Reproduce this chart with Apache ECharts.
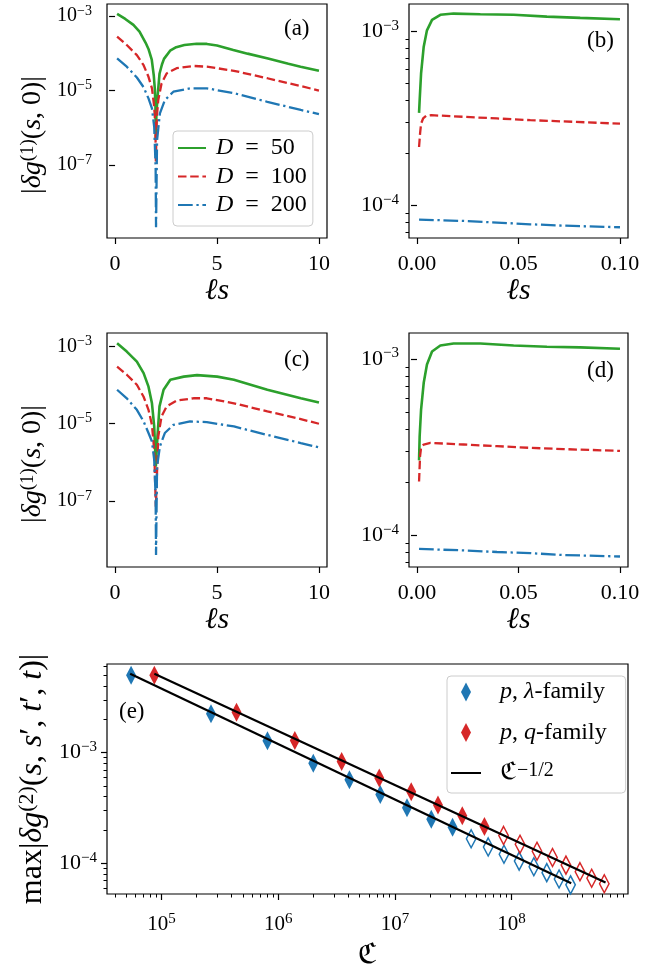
<!DOCTYPE html>
<html><head><meta charset="utf-8">
<script src="https://cdn.jsdelivr.net/npm/echarts@6/dist/echarts.min.js"></script>
<style>html,body{margin:0;padding:0;background:#fff}#c{width:668px;height:971px}</style>
</head><body><div id="c"></div>
<script>
// ---------------- data ----------------
const aGreen = [[0.1,1.13e-3],[0.5,8.32e-4],[0.9,5.75e-4],[1.2,3.80e-4],[1.5,1.91e-4],[1.65,1.26e-4],[1.8,6.76e-5],[1.9,2.51e-5],[1.95,1.12e-5],[1.98,3.98e-6],[2.0,5.25e-7],[2.03,2.51e-6],[2.08,6.31e-6],[2.18,2.82e-5],[2.3,5.01e-5],[2.4,7.08e-5],[2.7,1.17e-4],[3.0,1.45e-4],[3.4,1.66e-4],[4.0,1.80e-4],[4.5,1.78e-4],[5.0,1.62e-4],[5.8,1.23e-4],[6.5,9.77e-5],[7.5,7.24e-5],[8.5,5.25e-5],[9.1,4.37e-5],[10.0,3.39e-5]];
const aRed = [[0.1,2.79e-4],[0.575,1.66e-4],[1.07,8.91e-5],[1.4,4.79e-5],[1.64,2.34e-5],[1.81,1.15e-5],[1.92,3.72e-6],[1.98,1.0e-6],[2.0,1.26e-7],[2.05,2.0e-6],[2.12,5.62e-6],[2.28,1.55e-5],[2.53,2.88e-5],[3.02,3.98e-5],[3.84,4.57e-5],[4.5,4.37e-5],[5.83,3.39e-5],[7.47,2.14e-5],[9.11,1.32e-5],[10.0,1.0e-5]];
const aBlue = [[0.1,7.29e-5],[0.575,4.37e-5],[1.07,2.24e-5],[1.4,1.23e-5],[1.64,6.17e-6],[1.81,3.31e-6],[1.92,1.07e-6],[1.99,8.91e-8],[2.01,2.19e-9],[2.06,4.68e-7],[2.2,2.45e-6],[2.44,5.50e-6],[2.86,9.33e-6],[3.68,1.15e-5],[4.5,1.15e-5],[5.83,8.51e-6],[7.47,5.01e-6],[9.11,3.02e-6],[10.0,2.34e-6]];

const bGreen = [[0.001,3.39e-4],[0.0013,4.01e-4],[0.002,5.71e-4],[0.0033,8.13e-4],[0.0049,1.01e-3],[0.0074,1.16e-3],[0.0115,1.24e-3],[0.018,1.26e-3],[0.0312,1.25e-3],[0.0476,1.24e-3],[0.064,1.21e-3],[0.0804,1.19e-3],[0.1,1.17e-3]];
const bRed = [[0.001,2.16e-4],[0.0015,2.58e-4],[0.002,2.94e-4],[0.003,3.15e-4],[0.0045,3.26e-4],[0.007,3.29e-4],[0.023,3.22e-4],[0.0394,3.15e-4],[0.0558,3.08e-4],[0.0722,3.03e-4],[0.1,2.94e-4]];
const bBlue = [[0.001,8.28e-5],[0.023,8.13e-5],[0.0394,7.96e-5],[0.0558,7.78e-5],[0.0722,7.64e-5],[0.1,7.48e-5]];

const cGreen = [[0.1,1.22e-3],[0.575,7.41e-4],[1.07,4.07e-4],[1.4,2.04e-4],[1.64,9.12e-5],[1.81,3.39e-5],[1.92,8.51e-6],[2.0,7.76e-7],[2.08,4.68e-6],[2.18,2.82e-5],[2.38,7.59e-5],[2.71,1.38e-4],[3.37,1.66e-4],[4.02,1.82e-4],[5.01,1.66e-4],[5.83,1.38e-4],[7.47,7.59e-5],[9.11,4.57e-5],[10.0,3.55e-5]];
const cRed = [[0.1,3.02e-4],[0.575,1.86e-4],[1.07,1.02e-4],[1.4,5.01e-5],[1.64,2.29e-5],[1.81,9.33e-6],[1.92,2.09e-6],[2.0,7.08e-8],[2.12,4.68e-6],[2.28,1.55e-5],[2.53,2.82e-5],[3.02,3.98e-5],[3.84,4.57e-5],[4.5,4.57e-5],[5.83,3.39e-5],[7.47,2.09e-5],[9.11,1.32e-5],[10.0,1.0e-5]];
const cBlue = [[0.1,7.59e-5],[0.575,4.57e-5],[1.07,2.29e-5],[1.4,1.15e-5],[1.64,5.75e-6],[1.81,3.47e-6],[1.92,1.17e-6],[1.99,1.29e-7],[2.01,3.98e-9],[2.06,7.76e-7],[2.2,2.57e-6],[2.44,5.75e-6],[2.86,9.33e-6],[3.68,1.15e-5],[4.5,1.10e-5],[5.83,8.51e-6],[7.47,5.13e-6],[9.11,3.16e-6],[10.0,2.45e-6]];

const dGreen = [[0.001,2.66e-4],[0.0013,3.64e-4],[0.002,5.16e-4],[0.0033,7.31e-4],[0.0049,9.29e-4],[0.0074,1.10e-3],[0.0115,1.19e-3],[0.018,1.22e-3],[0.0312,1.22e-3],[0.0476,1.19e-3],[0.064,1.17e-3],[0.0804,1.16e-3],[0.1,1.14e-3]];
const dRed = [[0.001,2.02e-4],[0.0015,2.81e-4],[0.002,3.13e-4],[0.0033,3.27e-4],[0.0066,3.34e-4],[0.023,3.27e-4],[0.0394,3.20e-4],[0.0558,3.13e-4],[0.0722,3.08e-4],[0.1,3.01e-4]];
const dBlue = [[0.001,8.38e-5],[0.023,8.22e-5],[0.0394,8.05e-5],[0.0558,7.93e-5],[0.0722,7.74e-5],[0.1,7.59e-5]];

const eBlueFilled = [[5.5e4,5.0e-3],[2.66e5,2.24e-3],[8.1e5,1.28e-3],[2.0e6,8.04e-4],[4.08e6,5.70e-4],[7.5e6,4.20e-4],[1.27e7,3.19e-4],[2.05e7,2.51e-4],[3.12e7,2.12e-4]];
const eBlueOpen = [[4.5e7,1.67e-4],[6.3e7,1.41e-4],[8.6e7,1.21e-4],[1.16e8,1.05e-4],[1.55e8,9.33e-5],[2.0e8,8.26e-5],[2.55e8,7.24e-5],[3.2e8,6.41e-5]];
const eRedFilled = [[8.7e4,5.0e-3],[4.4e5,2.32e-3],[1.39e6,1.29e-3],[3.5e6,8.32e-4],[7.35e6,5.90e-4],[1.38e7,4.44e-4],[2.34e7,3.37e-4],[3.78e7,2.70e-4],[5.85e7,2.15e-4]];
const eRedOpen = [[8.53e7,1.79e-4],[1.18e8,1.49e-4],[1.65e8,1.29e-4],[2.24e8,1.13e-4],[2.92e8,9.66e-5],[3.85e8,8.43e-5],[4.85e8,7.36e-5],[6.22e8,6.56e-5]];
const eBlueFit = [[5.4e4,5.15e-3],[3.24e8,6.64e-5]];
const eRedFit = [[8.7e4,5.15e-3],[6.38e8,6.73e-5]];

// tick values
const xTicksAC = [0, 5, 10];
const xTicksBD = [0, 0.05, 0.1];
const yTicksAC = [1e-7, 1e-5, 1e-3];
const yTicksBD = [1e-4, 1e-3];
const yMinorBD = [7e-5, 8e-5, 9e-5, 2e-4, 3e-4, 4e-4, 5e-4, 6e-4, 7e-4, 8e-4, 9e-4];
const yTicksE = [1e-4, 1e-3];
const yMinorE = [6e-5, 7e-5, 8e-5, 9e-5, 2e-4, 3e-4, 4e-4, 5e-4, 6e-4, 7e-4, 8e-4, 9e-4, 2e-3, 3e-3, 4e-3, 5e-3, 6e-3];
const xTicksE = [1e5, 1e6, 1e7, 1e8];
const xMinorE = [4e4,5e4,6e4,7e4,8e4,9e4,
  2e5,3e5,4e5,5e5,6e5,7e5,8e5,9e5,
  2e6,3e6,4e6,5e6,6e6,7e6,8e6,9e6,
  2e7,3e7,4e7,5e7,6e7,7e7,8e7,9e7,
  2e8,3e8,4e8,5e8,6e8,7e8,8e8,9e8];

// ---------------- styles ----------------
const F = "'Liberation Serif','DejaVu Serif',serif";
const FK = "'DejaVu Sans','DejaVu Serif',serif";
const K = '#000';
const GREEN = '#2ca02c', RED = '#d62728', BLUE = '#1f77b4';

function pow10(v) {
  const e = Math.round(Math.log10(v));
  return '{b|10}{s|' + (e < 0 ? '\u2212' : '') + Math.abs(e) + '}';
}
function tickRich(big, small) {
  return {
    b: {fontSize: big, fontFamily: F, color: K, lineHeight: big + 4},
    s: {fontSize: small, fontFamily: F, color: K, verticalAlign: 'top', lineHeight: small + 1}
  };
}
function nameRich(big, small) {
  return {
    i: {fontStyle: 'italic', fontFamily: F, fontSize: big, color: K},
    s: {fontFamily: F, fontSize: small, color: K, verticalAlign: 'top', lineHeight: small},
    p: {width: 28, fontSize: big}
  };
}

const grids = [
  {left: 107, top: 4, width: 220, height: 234},
  {left: 409, top: 4, width: 219, height: 234},
  {left: 107, top: 333, width: 220, height: 234},
  {left: 409, top: 333, width: 219, height: 234},
  {left: 107, top: 664, width: 521, height: 234}
].map(g => Object.assign(g, {show: true, borderColor: K, borderWidth: 1.2, backgroundColor: 'transparent'}));

function linX(gi, min, max, ticks, fmt) {
  return {
    gridIndex: gi, type: 'value', position: 'bottom', min: min, max: max,
    axisLine: {show: false, onZero: false}, splitLine: {show: false},
    axisTick: {show: true, customValues: ticks, length: 6, lineStyle: {color: K, width: 1.2}},
    axisLabel: {customValues: ticks, formatter: fmt, fontSize: 22, fontFamily: F, color: K, margin: 15},
    name: 'ℓs', nameLocation: 'middle', nameGap: 37,
    nameTextStyle: {fontSize: 30, fontStyle: 'italic', fontFamily: F, color: K}
  };
}
function logY(gi, min, max, ticks, margin, big, small, extra) {
  return Object.assign({
    gridIndex: gi, type: 'log', logBase: 10, position: 'left', min: min, max: max,
    axisLine: {show: false}, splitLine: {show: false}, minorTick: {show: false},
    axisTick: {show: true, customValues: ticks, length: 6, lineStyle: {color: K, width: 1.2}},
    axisLabel: {customValues: ticks, formatter: pow10, rich: tickRich(big, small), margin: margin}
  }, extra || {});
}
function minorY(gi, min, max, ticks) {
  return {
    gridIndex: gi, type: 'log', logBase: 10, position: 'left', min: min, max: max,
    axisLine: {show: false}, splitLine: {show: false}, axisLabel: {show: false},
    axisTick: {show: true, customValues: ticks, length: 3.5, lineStyle: {color: K, width: 1}}
  };
}
const yNameA = {
  name: '|{i|δg}{s|(1)}({i|s}, 0)|{p| }', nameLocation: 'middle', nameGap: 60,
  nameTextStyle: {fontFamily: F, fontSize: 28, color: K, rich: nameRich(28, 19)}
};

const xAxes = [
  linX(0, -0.395, 10.395, xTicksAC, v => String(v)),
  linX(1, -0.00395, 0.10395, xTicksBD, v => v.toFixed(2)),
  linX(2, -0.395, 10.395, xTicksAC, v => String(v)),
  linX(3, -0.00395, 0.10395, xTicksBD, v => v.toFixed(2)),
  {
    gridIndex: 4, type: 'log', logBase: 10, position: 'bottom', min: 3.42e4, max: 9.93e8,
    axisLine: {show: false, onZero: false}, splitLine: {show: false},
    axisTick: {show: true, customValues: xTicksE, length: 6, lineStyle: {color: K, width: 1.2}},
    axisLabel: {customValues: xTicksE, formatter: pow10, rich: tickRich(21, 15), margin: 18},
    name: 'ℭ', nameLocation: 'middle', nameGap: 48,
    nameTextStyle: {fontSize: 28, fontFamily: FK, color: K}
  },
  {
    gridIndex: 4, type: 'log', logBase: 10, position: 'bottom', min: 3.42e4, max: 9.93e8,
    axisLine: {show: false, onZero: false}, splitLine: {show: false}, axisLabel: {show: false},
    axisTick: {show: true, customValues: xMinorE, length: 3.5, lineStyle: {color: K, width: 1}}
  }
];
const yAxes = [
  logY(0, 1.12e-9, 2.09e-3, yTicksAC, 15, 20, 14, yNameA),
  logY(1, 6.49e-5, 1.43e-3, yTicksBD, 10, 22, 15),
  logY(2, 1.95e-9, 2.24e-3, yTicksAC, 15, 20, 14, yNameA),
  logY(3, 6.62e-5, 1.40e-3, yTicksBD, 10, 22, 15),
  logY(4, 5.30e-5, 6.31e-3, yTicksE, 10, 22, 15, {
    name: 'max|{i|δg}{s|(2)}({i|s}, {i|s}′, {i|t}′, {i|t})|', nameLocation: 'middle', nameGap: 58,
    nameTextStyle: {fontFamily: F, fontSize: 32, color: K, rich: nameRich(32, 22)}
  }),
  minorY(1, 6.49e-5, 1.43e-3, yMinorBD),
  minorY(3, 6.62e-5, 1.40e-3, yMinorBD),
  minorY(4, 5.30e-5, 6.31e-3, yMinorE)
];

const DASH = [8.5, 3.7], DASHDOT = [14.7, 3.7, 2.3, 3.7];
function ln(name, gi, data, color, width, type) {
  return {name: name, type: 'line', xAxisIndex: gi, yAxisIndex: gi, data: data, symbol: 'none', showSymbol: false,
    lineStyle: {color: color, width: width, type: type}, itemStyle: {color: color}, animation: false, z: 2};
}
function sc(name, data, color, open) {
  return {name: name, type: 'scatter', xAxisIndex: 4, yAxisIndex: 4, data: data, symbol: 'diamond',
    symbolSize: open ? [9.5, 18] : [10, 19],
    itemStyle: open ? {color: 'rgba(0,0,0,0)', borderColor: color, borderWidth: 1.6, opacity: 1} : {color: color, opacity: 1},
    animation: false, z: 2};
}
const series = [
  ln('a50', 0, aGreen, GREEN, 2.6, 'solid'),
  ln('a100', 0, aRed, RED, 2.3, DASH),
  ln('a200', 0, aBlue, BLUE, 2.3, DASHDOT),
  ln('b50', 1, bGreen, GREEN, 2.6, 'solid'),
  ln('b100', 1, bRed, RED, 2.3, DASH),
  ln('b200', 1, bBlue, BLUE, 2.3, DASHDOT),
  ln('c50', 2, cGreen, GREEN, 2.6, 'solid'),
  ln('c100', 2, cRed, RED, 2.3, DASH),
  ln('c200', 2, cBlue, BLUE, 2.3, DASHDOT),
  ln('d50', 3, dGreen, GREEN, 2.6, 'solid'),
  ln('d100', 3, dRed, RED, 2.3, DASH),
  ln('d200', 3, dBlue, BLUE, 2.3, DASHDOT),
  sc('lam', eBlueFilled, BLUE, false),
  sc('lamOpen', eBlueOpen, BLUE, true),
  sc('qf', eRedFilled, RED, false),
  sc('qfOpen', eRedOpen, RED, true),
  Object.assign(ln('fit', 4, eBlueFit, K, 2.2, 'solid'), {z: 3}),
  Object.assign(ln('fit', 4, eRedFit, K, 2.2, 'solid'), {z: 3})
];

const EQ = '\u2002=\u2002';
const legendNames = {
  a50: '{i|D}' + EQ + '50', a100: '{i|D}' + EQ + '100', a200: '{i|D}' + EQ + '200',
  lam: '{i|p}, {i|λ}-family', qf: '{i|p}, {i|q}-family', fit: '{k|ℭ}{s|\u22121/2}'
};
function legendRich(sz) {
  return {
    i: {fontStyle: 'italic', fontFamily: F, fontSize: sz, color: K},
    k: {fontFamily: FK, fontSize: sz, color: K},
    s: {fontFamily: F, fontSize: 20, color: K, verticalAlign: 'top', lineHeight: 17}
  };
}
const diamondIcon = 'path://M5,0L10,9.5L5,19L0,9.5Z';
const hidden = {opacity: 0};
const legends = [
  {
    data: [{name: 'a50', itemStyle: hidden}, {name: 'a100', itemStyle: hidden}, {name: 'a200', itemStyle: hidden}],
    orient: 'vertical', left: 173, top: 131,
    itemWidth: 28, itemHeight: 14, itemGap: 4.5, padding: [5, 6, 9, 4],
    backgroundColor: 'rgba(255,255,255,0.8)', borderColor: '#cccccc', borderWidth: 1, borderRadius: 4,
    formatter: n => legendNames[n], selectedMode: false,
    textStyle: {fontFamily: F, fontSize: 24, lineHeight: 24, color: K, padding: [0, 0, 0, 5], rich: legendRich(24)}
  },
  {
    data: [{name: 'lam', icon: diamondIcon}, {name: 'qf', icon: diamondIcon}, {name: 'fit', itemStyle: hidden}],
    orient: 'vertical', left: 447, top: 676,
    itemWidth: 30, itemHeight: 19, itemGap: 16.5, padding: [4, 19, 8, 3],
    backgroundColor: 'rgba(255,255,255,0.8)', borderColor: '#cccccc', borderWidth: 1, borderRadius: 4,
    formatter: n => legendNames[n], selectedMode: false,
    textStyle: {fontFamily: F, fontSize: 24, lineHeight: 24, color: K, padding: [0, 0, 0, 14], rich: legendRich(24)}
  }
];

const titleStyle = {fontSize: 23, fontWeight: 'normal', fontFamily: F, color: K};
const titles = [
  {text: '(a)', left: 284, top: 17},
  {text: '(b)', left: 587, top: 29},
  {text: '(c)', left: 284, top: 348},
  {text: '(d)', left: 587, top: 359},
  {text: '(e)', left: 119, top: 700}
].map(t => Object.assign(t, {padding: 0, textStyle: titleStyle}));

const chart = echarts.init(document.getElementById('c'));
chart.setOption({
  animation: false,
  backgroundColor: '#fff',
  title: titles,
  grid: grids,
  xAxis: xAxes,
  yAxis: yAxes,
  legend: legends,
  series: series
});
</script>
</body></html>
